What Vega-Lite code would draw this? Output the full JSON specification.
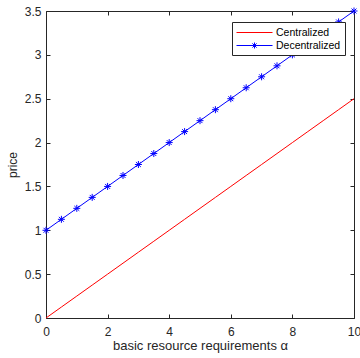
{
  "$schema": "https://vega.github.io/schema/vega-lite/v6.json",
  "width": 308,
  "height": 307,
  "autosize": {"type": "none"},
  "padding": {"left": 46, "top": 11, "right": 6, "bottom": 40},
  "background": "white",
  "config": {
    "font": "Liberation Sans",
    "view": {"stroke": "#262626", "strokeWidth": 1},
    "axis": {
      "grid": false,
      "domain": false,
      "tickColor": "#262626",
      "tickSize": -4,
      "tickWidth": 1,
      "labelColor": "#262626",
      "labelFont": "Liberation Sans",
      "labelFontSize": 12,
      "titleFont": "Liberation Sans",
      "titleFontSize": 13,
      "titleFontWeight": "normal",
      "titleColor": "#262626"
    },
    "legend": {
      "labelFont": "Liberation Sans",
      "labelFontSize": 10.5,
      "labelColor": "#000000"
    }
  },
  "data": {
    "values": [
      {"series": "Centralized", "alpha": 0, "price": 0},
      {"series": "Centralized", "alpha": 0.5, "price": 0.125},
      {"series": "Centralized", "alpha": 1, "price": 0.25},
      {"series": "Centralized", "alpha": 1.5, "price": 0.375},
      {"series": "Centralized", "alpha": 2, "price": 0.5},
      {"series": "Centralized", "alpha": 2.5, "price": 0.625},
      {"series": "Centralized", "alpha": 3, "price": 0.75},
      {"series": "Centralized", "alpha": 3.5, "price": 0.875},
      {"series": "Centralized", "alpha": 4, "price": 1},
      {"series": "Centralized", "alpha": 4.5, "price": 1.125},
      {"series": "Centralized", "alpha": 5, "price": 1.25},
      {"series": "Centralized", "alpha": 5.5, "price": 1.375},
      {"series": "Centralized", "alpha": 6, "price": 1.5},
      {"series": "Centralized", "alpha": 6.5, "price": 1.625},
      {"series": "Centralized", "alpha": 7, "price": 1.75},
      {"series": "Centralized", "alpha": 7.5, "price": 1.875},
      {"series": "Centralized", "alpha": 8, "price": 2},
      {"series": "Centralized", "alpha": 8.5, "price": 2.125},
      {"series": "Centralized", "alpha": 9, "price": 2.25},
      {"series": "Centralized", "alpha": 9.5, "price": 2.375},
      {"series": "Centralized", "alpha": 10, "price": 2.5},
      {"series": "Decentralized", "alpha": 0, "price": 1},
      {"series": "Decentralized", "alpha": 0.5, "price": 1.125},
      {"series": "Decentralized", "alpha": 1, "price": 1.25},
      {"series": "Decentralized", "alpha": 1.5, "price": 1.375},
      {"series": "Decentralized", "alpha": 2, "price": 1.5},
      {"series": "Decentralized", "alpha": 2.5, "price": 1.625},
      {"series": "Decentralized", "alpha": 3, "price": 1.75},
      {"series": "Decentralized", "alpha": 3.5, "price": 1.875},
      {"series": "Decentralized", "alpha": 4, "price": 2},
      {"series": "Decentralized", "alpha": 4.5, "price": 2.125},
      {"series": "Decentralized", "alpha": 5, "price": 2.25},
      {"series": "Decentralized", "alpha": 5.5, "price": 2.375},
      {"series": "Decentralized", "alpha": 6, "price": 2.5},
      {"series": "Decentralized", "alpha": 6.5, "price": 2.625},
      {"series": "Decentralized", "alpha": 7, "price": 2.75},
      {"series": "Decentralized", "alpha": 7.5, "price": 2.875},
      {"series": "Decentralized", "alpha": 8, "price": 3},
      {"series": "Decentralized", "alpha": 8.5, "price": 3.125},
      {"series": "Decentralized", "alpha": 9, "price": 3.25},
      {"series": "Decentralized", "alpha": 9.5, "price": 3.375},
      {"series": "Decentralized", "alpha": 10, "price": 3.5}
    ]
  },
  "layer": [
    {
      "transform": [{"filter": "datum.series === 'Centralized'"}],
      "mark": {"type": "line", "strokeWidth": 1, "clip": false},
      "encoding": {
        "x": {
          "field": "alpha", "type": "quantitative",
          "scale": {"domain": [0, 10], "nice": false, "zero": false},
          "axis": {
            "orient": "bottom",
            "values": [0, 2, 4, 6, 8, 10],
            "format": ".1~f",
            "labelPadding": 12,
            "labelFlush": false,
            "labelOverlap": false,
            "title": "basic resource requirements α",
            "titlePadding": 2
          }
        },
        "y": {
          "field": "price", "type": "quantitative",
          "scale": {"domain": [0, 3.5], "nice": false, "zero": false},
          "axis": {
            "orient": "left",
            "values": [0, 0.5, 1, 1.5, 2, 2.5, 3, 3.5],
            "format": ".1~f",
            "labelPadding": 9,
            "labelFlush": false,
            "labelOverlap": false,
            "title": "price",
            "titleFontSize": 12,
            "titlePadding": 5
          }
        },
        "color": {
          "field": "series", "type": "nominal",
          "scale": {"domain": ["Centralized", "Decentralized"], "range": ["#ff0000", "#0000ff"]},
          "legend": {
            "title": null,
            "orient": "none",
            "legendX": 186,
            "legendY": 11,
            "padding": 4,
            "fillColor": "white",
            "strokeColor": "#262626",
            "symbolSize": 144,
            "symbolStrokeWidth": 1,
            "symbolOpacity": 1,
            "labelOffset": 27,
            "rowPadding": 1
          }
        }
      }
    },
    {
      "transform": [{"filter": "datum.series === 'Decentralized'"}],
      "mark": {"type": "line", "strokeWidth": 1, "clip": false},
      "encoding": {
        "x": {
          "field": "alpha", "type": "quantitative",
          "axis": {"orient": "top", "values": [0, 2, 4, 6, 8, 10], "labels": false, "title": null}
        },
        "y": {
          "field": "price", "type": "quantitative",
          "axis": {"orient": "right", "values": [0, 0.5, 1, 1.5, 2, 2.5, 3, 3.5], "labels": false, "title": null}
        },
        "color": {"field": "series", "type": "nominal"}
      }
    },
    {
      "transform": [{"filter": "datum.series === 'Decentralized'"}],
      "mark": {
        "type": "point",
        "filled": false,
        "clip": false,
        "shape": "M-1,0L1,0M0,-1L0,1M-0.7,-0.7L0.7,0.7M-0.7,0.7L0.7,-0.7",
        "size": 49,
        "strokeWidth": 1,
        "color": "#0000ff",
        "opacity": 1
      },
      "encoding": {
        "x": {"field": "alpha", "type": "quantitative", "axis": null},
        "y": {"field": "price", "type": "quantitative", "axis": null}
      }
    },
    {
      "mark": {"type": "point", "filled": false, "opacity": 0, "strokeWidth": 1},
      "encoding": {
        "x": {"field": "alpha", "type": "quantitative", "axis": null},
        "y": {"field": "price", "type": "quantitative", "axis": null},
        "color": {"field": "series", "type": "nominal"},
        "shape": {
          "field": "series", "type": "nominal",
          "scale": {
            "domain": ["Centralized", "Decentralized"],
            "range": [
              "M-1,0L5,0",
              "M-1,0L5,0M1.5,0L2.5,0M2,-0.5L2,0.5M1.65,-0.35L2.35,0.35M1.65,0.35L2.35,-0.35"
            ]
          },
          "legend": {
            "title": null,
            "orient": "none",
            "legendX": 186,
            "legendY": 11,
            "padding": 4,
            "fillColor": "white",
            "strokeColor": "#262626",
            "symbolSize": 144,
            "symbolStrokeWidth": 1,
            "symbolOpacity": 1,
            "labelOffset": 27,
            "rowPadding": 1
          }
        }
      }
    }
  ],
  "resolve": {"axis": {"x": "independent", "y": "independent"}}
}
